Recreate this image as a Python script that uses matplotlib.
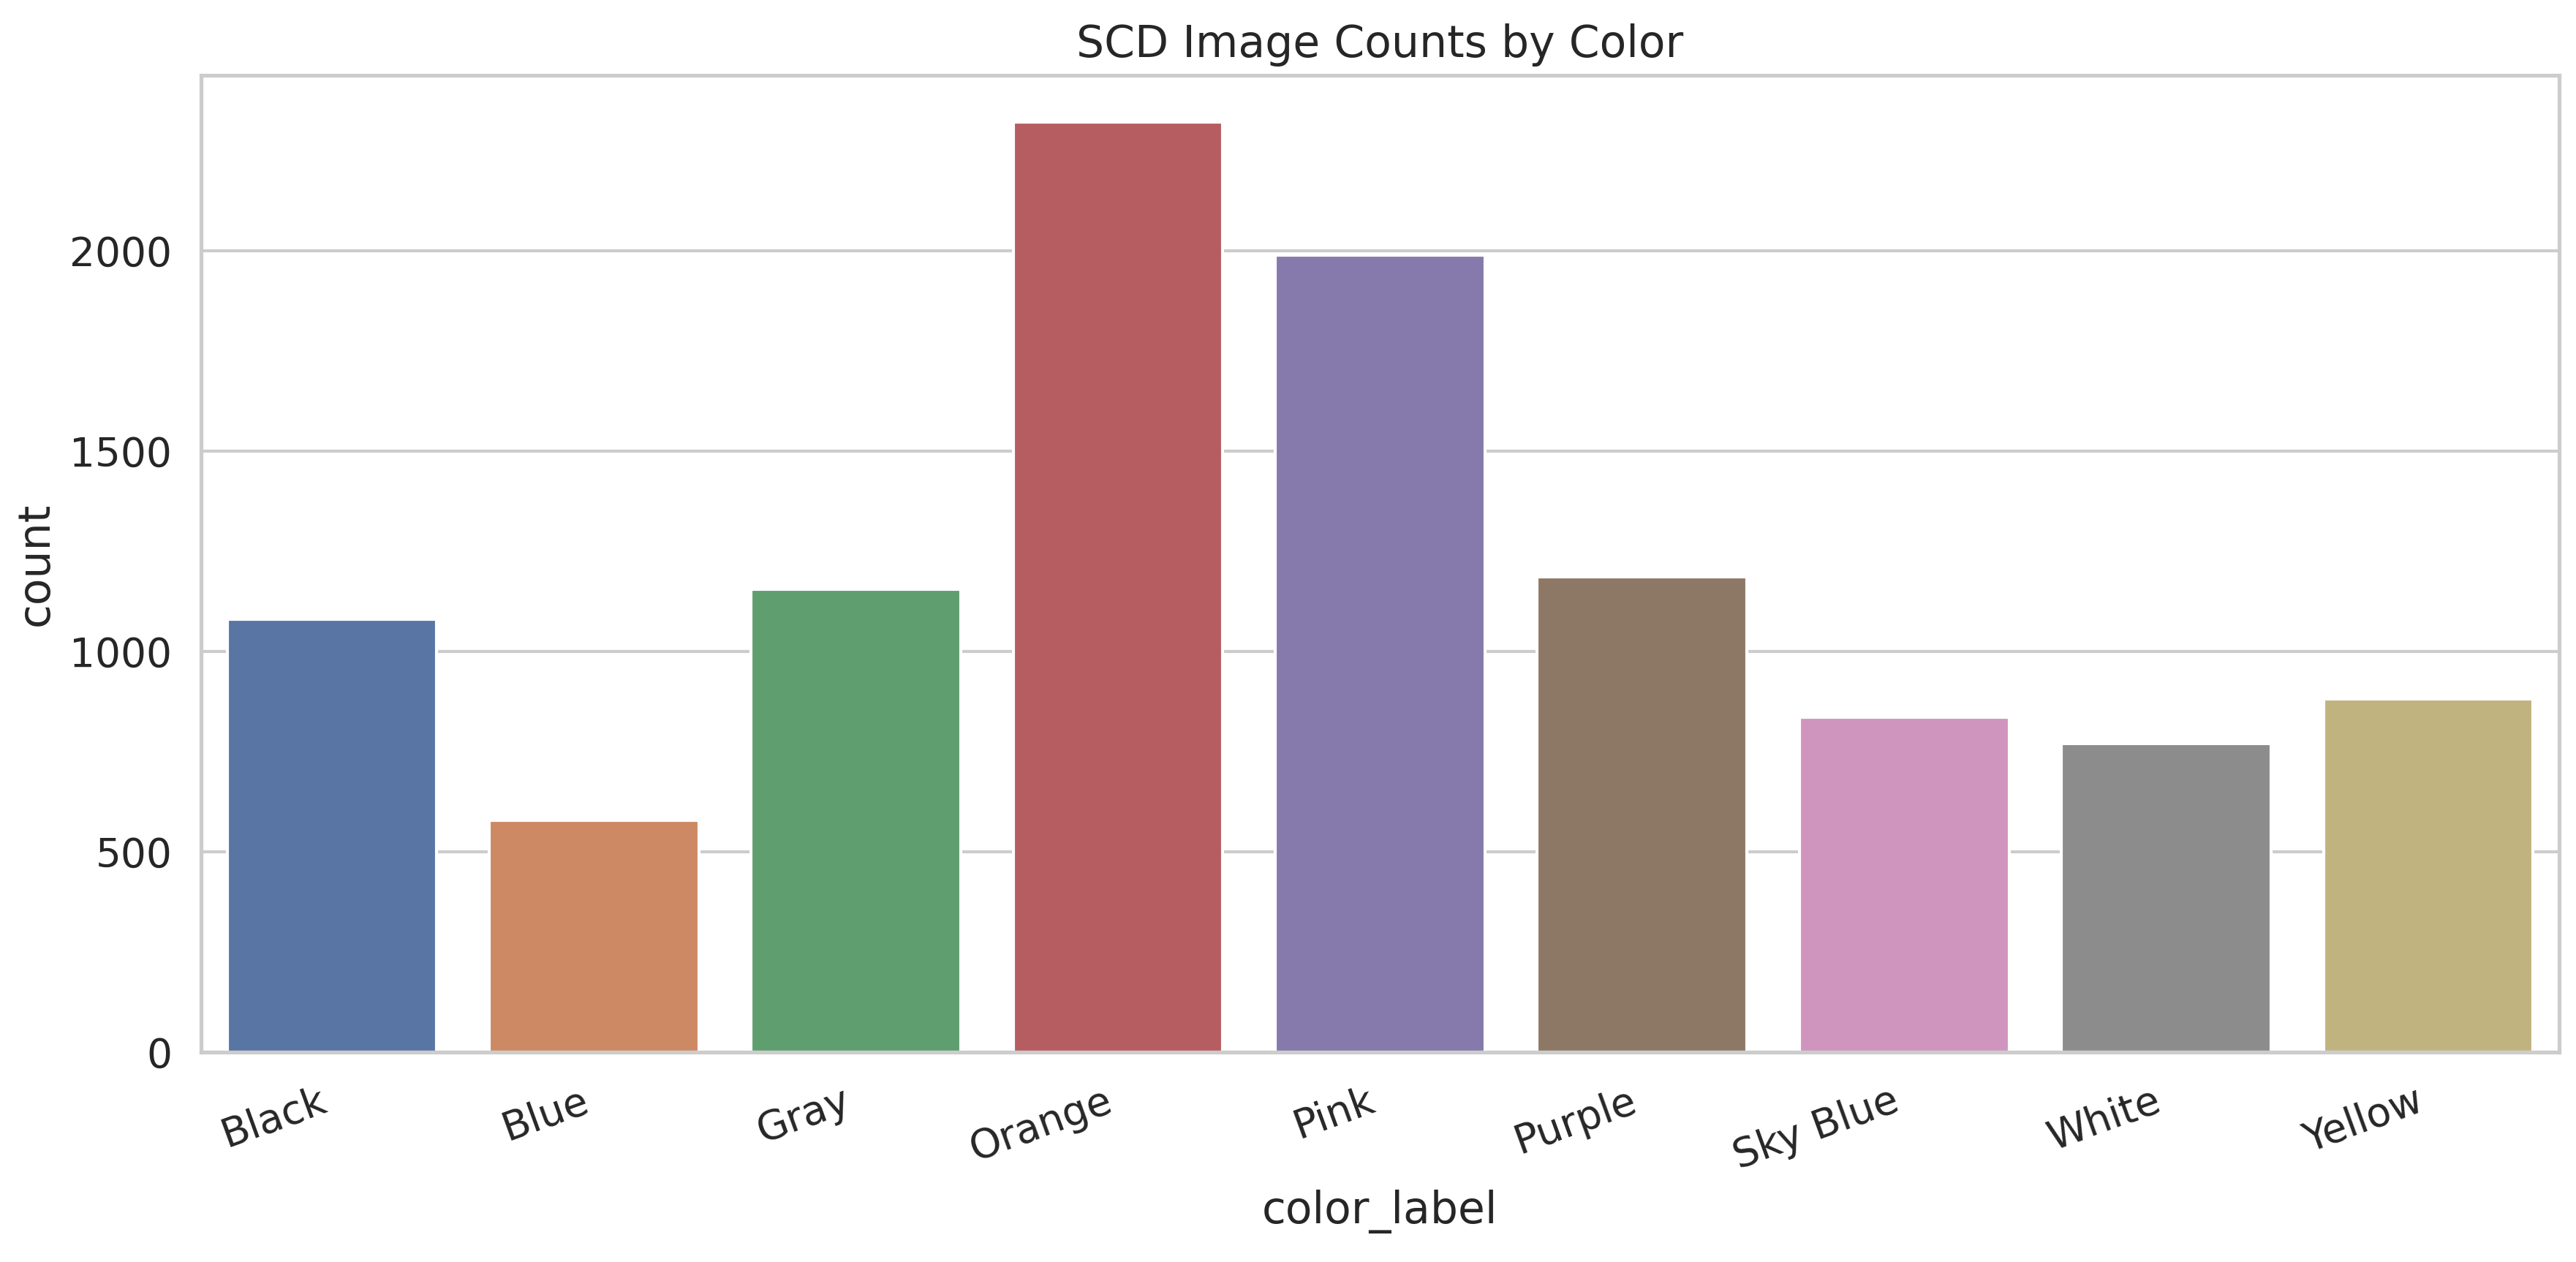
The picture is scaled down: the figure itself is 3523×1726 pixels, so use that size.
import matplotlib
matplotlib.use("Agg")
import matplotlib.pyplot as plt
import seaborn as sns

# counts
color_labels = ["Black", "Blue", "Gray", "Orange", "Pink", "Purple", "Sky Blue", "White", "Yellow"]
counts = [1080, 578, 1155, 2322, 1990, 1187, 836, 771, 881]

sns.set_theme(style="whitegrid", font_scale=1.2)
plt.rcParams["font.family"] = ["DejaVu Sans"]

dpi = 300
fig, ax = plt.subplots(figsize=(3523 / dpi, 1726 / dpi), dpi=dpi)
sns.barplot(x=color_labels, y=counts, hue=color_labels, palette="deep", legend=False, ax=ax)
ax.set_title("SCD Image Counts by Color")
ax.set_xlabel("color_label")
ax.set_ylabel("count")
plt.setp(ax.get_xticklabels(), rotation=20, ha="right")
fig.subplots_adjust(left=0.078, right=0.9935, bottom=0.1663, top=0.9403)
fig.savefig("out.png", dpi=dpi)
